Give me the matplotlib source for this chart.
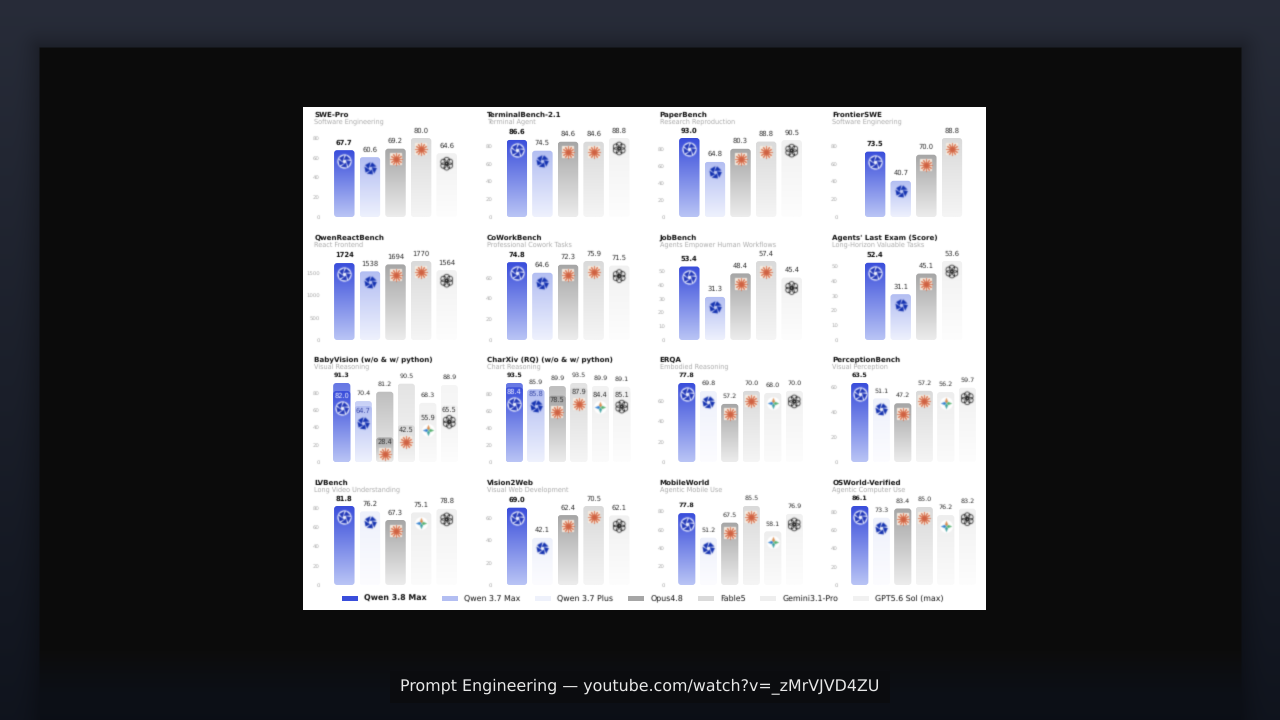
import numpy as np
import matplotlib
matplotlib.use("Agg")
import matplotlib.pyplot as plt
from matplotlib.patches import FancyBboxPatch, Patch, Rectangle
from matplotlib.path import Path
from matplotlib.transforms import Affine2D

plt.rcParams["text.hinting"] = "none"

W, H = 1280, 720

# series styles: name -> (gradient top, gradient bottom)
GRADS = {
    "q38": ("#3a4edb", "#b9c4f5"),
    "q37": ("#b3bef2", "#eef1fd"),
    "q37p": ("#eef1fb", "#fcfcff"),
    "opus": ("#a6a6a6", "#ececec"),
    "fable": ("#dadada", "#f5f5f5"),
    "gem": ("#eeeeee", "#fbfbfb"),
    "gpt": ("#f1f1f1", "#fdfdfd"),
}

legend_keys = ["q38", "q37", "q37p", "opus", "fable", "gem", "gpt"]
legend_names = ["Qwen 3.8 Max", "Qwen 3.7 Max", "Qwen 3.7 Plus", "Opus4.8", "Fable5",
                "Gemini3.1-Pro", "GPT5.6 Sol (max)"]

titles = ["SWE-Pro", "TerminalBench-2.1", "PaperBench", "FrontierSWE",
          "QwenReactBench", "CoWorkBench", "JobBench", "Agents' Last Exam (Score)",
          "BabyVision (w/o & w/ python)", "CharXiv (RQ) (w/o & w/ python)", "ERQA", "PerceptionBench",
          "LVBench", "Vision2Web", "MobileWorld", "OSWorld-Verified"]
subtitles = ["Software Engineering", "Terminal Agent", "Research Reproduction", "Software Engineering",
             "React Frontend", "Professional Cowork Tasks", "Agents Empower Human Workflows",
             "Long-Horizon Valuable Tasks",
             "Visual Reasoning", "Chart Reasoning", "Embodied Reasoning", "Visual Perception",
             "Long Video Understanding", "Visual Web Development", "Agentic Mobile Use",
             "Agentic Computer Use"]

M5 = ["q38", "q37", "opus", "fable", "gpt"]
series = [M5, M5, M5, ["q38", "q37", "opus", "fable"],
          M5, M5, M5, ["q38", "q37", "opus", "gpt"],
          ["q38", "q37", "opus", "fable", "gem", "gpt"],
          ["q38", "q37", "opus", "fable", "gem", "gpt"],
          ["q38", "q37p", "opus", "fable", "gem", "gpt"],
          ["q38", "q37p", "opus", "fable", "gem", "gpt"],
          ["q38", "q37p", "opus", "gem", "gpt"],
          ["q38", "q37p", "opus", "fable", "gpt"],
          ["q38", "q37p", "opus", "fable", "gem", "gpt"],
          ["q38", "q37p", "opus", "fable", "gem", "gpt"]]

values = [[67.7, 60.6, 69.2, 80.0, 64.6],
          [86.6, 74.5, 84.6, 84.6, 88.8],
          [93.0, 64.8, 80.3, 88.8, 90.5],
          [73.5, 40.7, 70.0, 88.8],
          [1724, 1538, 1694, 1770, 1564],
          [74.8, 64.6, 72.3, 75.9, 71.5],
          [53.4, 31.3, 48.4, 57.4, 45.4],
          [52.4, 31.1, 45.1, 53.6],
          [91.3, 70.4, 81.2, 90.5, 68.3, 88.9],
          [93.5, 85.9, 89.9, 93.5, 89.9, 89.1],
          [77.8, 69.8, 57.2, 70.0, 68.0, 70.0],
          [63.5, 51.1, 47.2, 57.2, 56.2, 59.7],
          [81.8, 76.2, 67.3, 75.1, 78.8],
          [69.0, 42.1, 62.4, 70.5, 62.1],
          [77.8, 51.2, 67.5, 85.5, 58.1, 76.9],
          [86.1, 73.3, 83.4, 85.0, 76.2, 83.2]]

# with-python values, only two panels have them
inner_values = {8: [82.0, 64.7, 28.4, 42.5, 55.9, 65.5],
                9: [88.4, 85.8, 78.5, 87.9, 84.4, 85.1]}

yticks = [[0, 20, 40, 60, 80], [0, 20, 40, 60, 80], [0, 20, 40, 60, 80], [0, 20, 40, 60, 80],
          [0, 500, 1000, 1500], [0, 20, 40, 60], [0, 10, 20, 30, 40, 50], [0, 10, 20, 30, 40, 50],
          [0, 20, 40, 60, 80], [0, 20, 40, 60, 80], [0, 20, 40, 60], [0, 20, 40, 60],
          [0, 20, 40, 60, 80], [0, 20, 40, 60], [0, 20, 40, 60, 80], [0, 20, 40, 60, 80]]

col_centers = [395.5, 568, 740.5, 913.5]
row_bottoms = [217, 340, 462, 585]
BAR_TOP_PX = 79
HALF_W = 70


def soften(img, dpi):
    # the source is a video frame, everything in it is slightly smeared
    pad = 2
    out = np.pad(img, ((pad, pad), (pad, pad), (0, 0)))
    alpha = out[..., 3:4]
    premult = np.concatenate([out[..., :3] * alpha, alpha], axis=2)
    kernel = np.array([0.12, 0.76, 0.12])
    for axis in (0, 1):
        premult = np.apply_along_axis(lambda m: np.convolve(m, kernel, mode="same"), axis, premult)
    a = premult[..., 3:4]
    rgb = np.divide(premult[..., :3], a, out=np.zeros_like(premult[..., :3]), where=a > 0)
    return np.concatenate([np.clip(rgb, 0, 1), a], axis=2), -pad, -pad


def make_icon_paths():
    # blue pinwheel: five twisted blades round a small hole
    verts, codes = [], []
    for k in range(5):
        a0 = np.deg2rad(72 * k + 18)
        a1 = a0 + np.deg2rad(58)
        twist = np.deg2rad(40)
        ring = [(np.cos(a0), np.sin(a0)), (np.cos(a1), np.sin(a1)),
                (np.cos(a1 + twist) * 0.3, np.sin(a1 + twist) * 0.3),
                (np.cos(a0 + twist) * 0.3, np.sin(a0 + twist) * 0.3),
                (np.cos(a0), np.sin(a0))]
        verts += ring
        codes += [Path.MOVETO, Path.LINETO, Path.LINETO, Path.LINETO, Path.CLOSEPOLY]
    pin = Path(verts, codes)
    # openai knot: six overlapping petals
    circ = Path.unit_circle()
    parts = []
    for k in range(6):
        a = np.deg2rad(60 * k + 30)
        parts.append(circ.transformed(Affine2D().scale(0.42).translate(0.58 * np.cos(a), 0.58 * np.sin(a))))
    knot = Path.make_compound_path(*parts)
    return pin, knot


PIN, KNOT = make_icon_paths()
KITE = [Path([(0, 0), (0.28, 0.28), (0, 1), (-0.28, 0.28), (0, 0)]).transformed(Affine2D().rotate_deg(r))
        for r in (0, 90, 180, 270)]
KITE_COLORS = ["#d98a4a", "#2f7fd0", "#3aa0a0", "#4fae6a"]


def icon(ax, x, y, marker, s, z, **kw):
    art = ax.scatter([x], [y], marker=marker, s=s, zorder=z, **kw)
    art.set_agg_filter(soften)
    return art


def draw_icon(ax, x, y, key, z=8):
    if key == "q38":
        icon(ax, x, y, "o", 105, z, color="#f0f3ff", linewidths=0)
        icon(ax, x, y, PIN, 90, z + 1, color="#1f35b8", linewidths=0)
    elif key in ("q37", "q37p"):
        icon(ax, x, y, PIN, 85, z + 1, color="#1230b0", linewidths=0)
    elif key in ("opus", "fable"):
        icon(ax, x, y, "s", 85, z, color="#f7ede2", linewidths=0)
        icon(ax, x, y, (12, 2, 0), 68, z + 1, color="#d9714f", linewidths=0.7)
        icon(ax, x, y, "o", 9, z + 1, color="#cf6244", linewidths=0)
    elif key == "gem":
        icon(ax, x, y, "o", 85, z, color="#ffffff", linewidths=0)
        for kite, c in zip(KITE, KITE_COLORS):
            icon(ax, x, y, kite, 70, z + 1, color=c, linewidths=0)
    else:
        icon(ax, x, y, KNOT, 85, z + 1, facecolors="none", edgecolors="#1e1e1e", linewidths=0.55)


def gradient_bar(ax, x, top, key, fade=1.0, z=2):
    c0 = np.array(matplotlib.colors.to_rgb(GRADS[key][0]))
    c1 = np.array(matplotlib.colors.to_rgb(GRADS[key][1]))
    if fade < 1.0:
        c0 = c0 + (c1 - c0) * (1 - fade)
    t = np.linspace(0, 1, 64)[:, None, None]
    img = c0[None, None, :] * (1 - t) + c1[None, None, :] * t
    im = ax.imshow(img, extent=(x - 0.4, x + 0.4, 0, top), aspect="auto", zorder=z,
                   interpolation="bilinear")
    pos = ax.get_position()
    px_x = pos.width * W / (ax.get_xlim()[1] - ax.get_xlim()[0])
    px_y = pos.height * H / (ax.get_ylim()[1] - ax.get_ylim()[0])
    clip = FancyBboxPatch((x - 0.4, 0), 0.8, top, boxstyle=f"round,pad=0,rounding_size={3 / px_x}",
                          mutation_aspect=px_x / px_y, transform=ax.transData,
                          facecolor="none", edgecolor="none")
    ax.add_patch(clip)
    im.set_clip_path(clip)


fig = plt.figure(figsize=(W / 100, H / 100), dpi=100)

# backdrop: navy slide, black panel with a soft edge, white chart card
bg = fig.add_axes([0, 0, 1, 1], zorder=0)
py, px = np.mgrid[0:H, 0:W]
v = py / (H - 1)
navy_top, navy_bot = np.array([0.155, 0.172, 0.222]), np.array([0.062, 0.078, 0.115])
slide = navy_top[None, None, :] * (1 - v[..., None]) + navy_bot[None, None, :] * v[..., None]
dx = np.maximum(np.maximum(40 - px, px - 1240), 0)
dy_top = np.maximum(48 - py, 0)
dy_bot = np.maximum(py - 650, 0)
dist = np.sqrt(dx ** 2 + np.maximum(dy_top, 0) ** 2)
edge = np.clip(1 - dist / 2.0, 0, 1) * np.clip(1 - dy_bot / 45.0, 0, 1)
shadow = np.clip(1 - np.sqrt(dx ** 2 + dy_top ** 2) / 30.0, 0, 1) ** 2 * 0.25
panel = np.array([0.047, 0.047, 0.047])
rgb = slide * (1 - shadow[..., None])
rgb = rgb * (1 - edge[..., None]) + panel * edge[..., None]
bg.imshow(rgb, extent=(0, W, H, 0), aspect="auto", interpolation="nearest")
bg.add_patch(Rectangle((303, 107), 683, 503, facecolor="white", linewidth=0))
bg.add_patch(Rectangle((390, 671), 500, 32, facecolor="#0b0c0f", linewidth=0))
bg.set_xlim(0, W)
bg.set_ylim(H, 0)
bg.axis("off")

for i, title in enumerate(titles):
    row, col = i // 4, i % 4
    vals = values[i]
    n = len(vals)
    spacing = 21.5 if n == 6 else 25.6
    ax = fig.add_axes([(col_centers[col] - HALF_W) / W, 1 - row_bottoms[row] / H,
                       2 * HALF_W / W, BAR_TOP_PX / H], zorder=2)
    ax.patch.set_alpha(0)
    top = max(vals)
    ax.set_xlim(-HALF_W / spacing, HALF_W / spacing)
    ax.set_ylim(0, top)
    unit = top / BAR_TOP_PX  # data units per pixel
    xs = np.arange(n) - (n - 1) / 2
    inner = inner_values.get(i)
    for j, (x, val, key) in enumerate(zip(xs, vals, series[i])):
        if inner is None:
            gradient_bar(ax, x, val, key)
            draw_icon(ax, x, val - 10.5 * unit, key)
        else:
            gradient_bar(ax, x, val, key, fade=0.65)
            gradient_bar(ax, x, inner[j], key, z=3)
            inner_color = "#eef0ff" if key == "q38" else ("#3a4aa8" if key == "q37" else "#333333")
            t = ax.text(x, inner[j] - 4.5 * unit, f"{inner[j]:.1f}", ha="center", va="center",
                        fontsize=4.8, color=inner_color, zorder=9)
            t.set_agg_filter(soften)
            draw_icon(ax, x, inner[j] - 16.5 * unit, key)
        label = f"{val:.0f}" if top > 1000 else f"{val:.1f}"
        t = ax.text(x, val + 7.5 * unit, label, ha="center", va="center",
                    fontsize=4.9 if n < 6 else 4.6,
                    fontweight="bold" if j == 0 else "normal",
                    color="#0c0c0c" if j == 0 else "#2c2c2c", zorder=9, clip_on=False)
        t.set_agg_filter(soften)

    ax.set_xticks([])
    ax.set_yticks(yticks[i])
    ax.tick_params(axis="y", length=0, pad=4, labelsize=3.9, labelcolor="#a8a8a8")
    for lab in ax.get_yticklabels():
        lab.set_agg_filter(soften)
    for s in ax.spines.values():
        s.set_visible(False)

    tx = col_centers[col] - 81
    t1 = fig.text(tx / W, 1 - (row_bottoms[row] - 102) / H, title, fontsize=5.15, fontweight="bold",
                  color="#111111", ha="left", va="center")
    t2 = fig.text(tx / W, 1 - (row_bottoms[row] - 95) / H, subtitles[i], fontsize=4.7,
                  color="#aaaaaa", ha="left", va="center")
    t1.set_agg_filter(soften)
    t2.set_agg_filter(soften)

handles = [Patch(facecolor=GRADS[k][0], edgecolor="none") for k in legend_keys]
leg = fig.legend(handles, legend_names, ncol=7, loc="center", bbox_to_anchor=(643 / W, 1 - 599 / H),
                 frameon=False, fontsize=5.7, handlelength=2.0, handleheight=0.6,
                 handletextpad=0.8, columnspacing=1.87, borderpad=0, borderaxespad=0)
leg.get_texts()[0].set_fontweight("bold")
for t in leg.get_texts():
    t.set_color("#111111")
    t.set_agg_filter(soften)

fig.text(640 / W, 1 - 686.5 / H, "Prompt Engineering — youtube.com/watch?v=_zMrVJVD4ZU",
         fontsize=11.45, color="#e8e8e8", ha="center", va="center")

fig.savefig("out.png", dpi=100)
